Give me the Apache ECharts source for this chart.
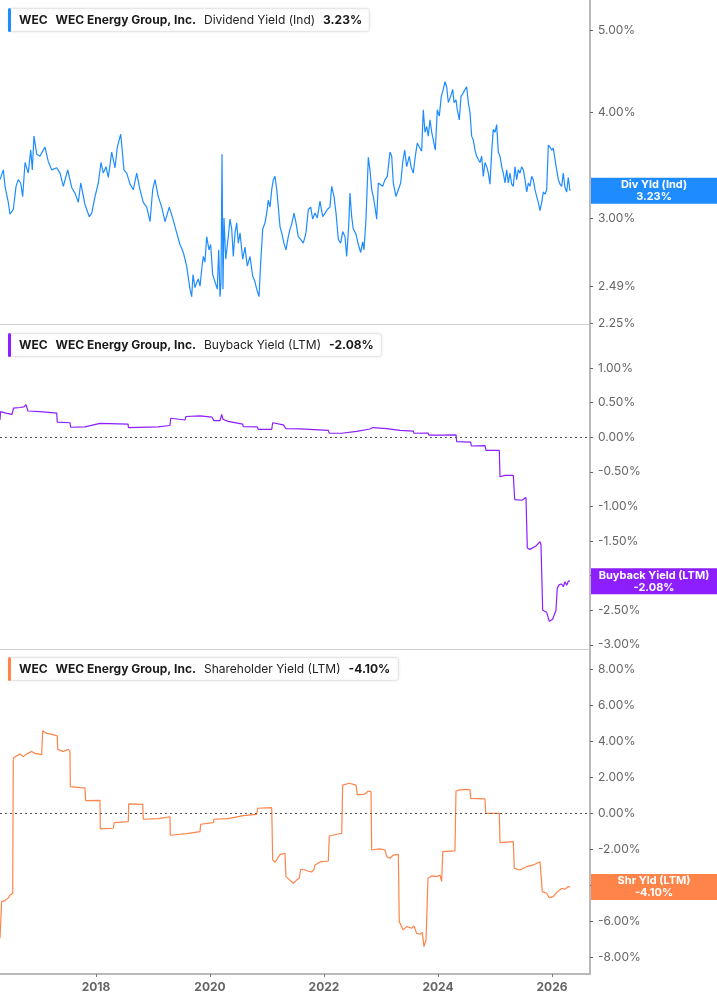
<!DOCTYPE html>
<html>
  <head>
    <meta charset="utf-8" />
    <title>WEC yields</title>
    <script src="https://cdn.jsdelivr.net/npm/echarts@6.0.0/dist/echarts.min.js"></script>
    <style>
      html, body { margin: 0; padding: 0; background: #fff; }
      #main { width: 717px; height: 1005px; }
    </style>
  </head>
  <body>
    <div id="main"></div>
    <script type="text/javascript">
      // x values are decimal years
      var xMin = 2016.316;
      var xMax = 2026.667;
      var yearTicks = [2018, 2020, 2022, 2024, 2026];

      var divTicks = [2.25, 2.49, 3, 4, 5];
      var buybackTicks = [-3, -2.5, -2, -1.5, -1, -0.5, 0, 0.5, 1];
      var shrTicks = [-8, -6, -4, -2, 0, 2, 4, 6, 8];

      // Dividend Yield (Ind), %
      var divYield = [
        [2016.316, 3.33], [2016.374, 3.42], [2016.404, 3.27], [2016.462, 3.13], [2016.491, 3.03],
        [2016.549, 3.07], [2016.597, 3.27], [2016.637, 3.33], [2016.679, 3.30], [2016.714, 3.18],
        [2016.755, 3.49], [2016.812, 3.39], [2016.855, 3.61], [2016.883, 3.42], [2016.912, 3.75],
        [2016.960, 3.57], [2017.018, 3.55], [2017.065, 3.60], [2017.105, 3.64], [2017.163, 3.50],
        [2017.223, 3.42], [2017.311, 3.44], [2017.369, 3.39], [2017.427, 3.27], [2017.504, 3.42],
        [2017.574, 3.26], [2017.632, 3.21], [2017.690, 3.13], [2017.732, 3.30], [2017.807, 3.11],
        [2017.883, 3.01], [2017.925, 3.04], [2017.983, 3.18], [2018.041, 3.30], [2018.088, 3.49],
        [2018.128, 3.39], [2018.176, 3.45], [2018.216, 3.35], [2018.276, 3.59], [2018.334, 3.44],
        [2018.374, 3.64], [2018.434, 3.77], [2018.491, 3.42], [2018.539, 3.39], [2018.597, 3.29],
        [2018.655, 3.24], [2018.714, 3.39], [2018.772, 3.24], [2018.830, 3.13], [2018.890, 3.09],
        [2018.948, 2.97], [2018.995, 3.24], [2019.035, 3.33], [2019.093, 3.18], [2019.153, 3.09],
        [2019.211, 2.97], [2019.286, 3.09], [2019.351, 2.99], [2019.416, 2.88], [2019.474, 2.79],
        [2019.532, 2.73], [2019.591, 2.63], [2019.623, 2.54], [2019.649, 2.47], [2019.679, 2.42],
        [2019.702, 2.57], [2019.737, 2.48], [2019.772, 2.52], [2019.795, 2.54], [2019.825, 2.49],
        [2019.855, 2.61], [2019.883, 2.70], [2019.912, 2.66], [2019.942, 2.85], [2019.983, 2.75],
        [2020.012, 2.79], [2020.047, 2.57], [2020.088, 2.52], [2020.128, 2.47], [2020.153, 2.75],
        [2020.176, 2.42], [2020.193, 2.51], [2020.211, 3.57], [2020.228, 2.47], [2020.246, 3.00],
        [2020.276, 2.68], [2020.321, 2.85], [2020.351, 2.99], [2020.381, 2.91], [2020.409, 2.70],
        [2020.439, 2.88], [2020.469, 2.96], [2020.497, 2.80], [2020.527, 2.88], [2020.574, 2.68],
        [2020.614, 2.77], [2020.655, 2.63], [2020.702, 2.70], [2020.749, 2.56], [2020.790, 2.52],
        [2020.819, 2.47], [2020.860, 2.42], [2020.890, 2.66], [2020.925, 2.91], [2020.965, 2.96],
        [2020.995, 3.04], [2021.023, 3.15], [2021.053, 3.09], [2021.083, 3.24], [2021.111, 3.33],
        [2021.141, 3.36], [2021.171, 3.24], [2021.199, 3.09], [2021.228, 2.93], [2021.258, 2.88],
        [2021.298, 2.80], [2021.333, 2.75], [2021.374, 2.85], [2021.404, 2.91], [2021.434, 2.95],
        [2021.474, 3.04], [2021.509, 2.96], [2021.549, 2.85], [2021.591, 2.83], [2021.637, 2.80],
        [2021.684, 2.88], [2021.725, 3.07], [2021.767, 3.09], [2021.802, 2.99], [2021.842, 3.04],
        [2021.883, 3.00], [2021.930, 3.14], [2021.977, 3.01], [2022.018, 3.04], [2022.058, 3.07],
        [2022.105, 3.09], [2022.135, 3.27], [2022.176, 3.18], [2022.211, 3.04], [2022.251, 2.83],
        [2022.293, 2.80], [2022.328, 2.89], [2022.369, 2.85], [2022.398, 2.70], [2022.433, 2.93],
        [2022.456, 3.21], [2022.486, 3.01], [2022.514, 2.91], [2022.562, 2.87], [2022.602, 2.79],
        [2022.644, 2.73], [2022.679, 2.81], [2022.702, 2.75], [2022.737, 2.99], [2022.778, 3.54],
        [2022.807, 3.42], [2022.837, 3.24], [2022.865, 3.18], [2022.895, 3.09], [2022.925, 2.99],
        [2022.953, 3.30], [2022.983, 3.30], [2023.030, 3.27], [2023.070, 3.33], [2023.111, 3.36],
        [2023.158, 3.59], [2023.188, 3.55], [2023.216, 3.30], [2023.263, 3.18], [2023.304, 3.24],
        [2023.346, 3.30], [2023.381, 3.49], [2023.416, 3.61], [2023.451, 3.45], [2023.497, 3.55],
        [2023.527, 3.45], [2023.567, 3.39], [2023.602, 3.55], [2023.637, 3.68], [2023.672, 3.64],
        [2023.714, 3.60], [2023.742, 4.03], [2023.772, 3.79], [2023.802, 3.85], [2023.830, 3.75],
        [2023.860, 3.92], [2023.890, 3.79], [2023.918, 3.71], [2023.953, 3.61], [2023.988, 4.03],
        [2024.023, 3.96], [2024.058, 4.18], [2024.093, 4.26], [2024.123, 4.35], [2024.153, 4.29],
        [2024.181, 4.11], [2024.223, 4.18], [2024.258, 4.26], [2024.281, 4.11], [2024.316, 4.14],
        [2024.339, 4.03], [2024.374, 3.92], [2024.404, 4.18], [2024.444, 4.22], [2024.474, 4.26],
        [2024.504, 4.29], [2024.532, 4.11], [2024.562, 4.00], [2024.591, 3.75], [2024.620, 3.71],
        [2024.649, 3.61], [2024.679, 3.55], [2024.707, 3.52], [2024.737, 3.49], [2024.767, 3.55],
        [2024.795, 3.36], [2024.825, 3.49], [2024.855, 3.45], [2024.883, 3.39], [2024.912, 3.29],
        [2024.942, 3.59], [2024.970, 3.82], [2025.000, 3.79], [2025.030, 3.87], [2025.058, 3.59],
        [2025.088, 3.55], [2025.118, 3.45], [2025.146, 3.39], [2025.176, 3.30], [2025.205, 3.42],
        [2025.234, 3.30], [2025.263, 3.39], [2025.293, 3.29], [2025.321, 3.27], [2025.351, 3.45],
        [2025.381, 3.33], [2025.409, 3.42], [2025.439, 3.39], [2025.469, 3.45], [2025.497, 3.42],
        [2025.527, 3.33], [2025.557, 3.22], [2025.585, 3.30], [2025.614, 3.27], [2025.644, 3.36],
        [2025.672, 3.33], [2025.702, 3.24], [2025.732, 3.18], [2025.760, 3.13], [2025.790, 3.06],
        [2025.820, 3.13], [2025.848, 3.22], [2025.878, 3.20], [2025.907, 3.24], [2025.936, 3.66],
        [2025.965, 3.64], [2025.995, 3.61], [2026.023, 3.63], [2026.053, 3.52], [2026.083, 3.42],
        [2026.111, 3.33], [2026.141, 3.29], [2026.170, 3.27], [2026.198, 3.39], [2026.228, 3.26],
        [2026.258, 3.22], [2026.286, 3.35], [2026.316, 3.23]
      ];

      // Buyback Yield (LTM), %
      var buybackYield = [
        [2016.316, 0.25], [2016.325, 0.37], [2016.421, 0.35], [2016.527, 0.33], [2016.549, 0.32],
        [2016.553, 0.42], [2016.667, 0.43], [2016.737, 0.44], [2016.772, 0.47], [2016.807, 0.38],
        [2017.018, 0.37], [2017.311, 0.35], [2017.321, 0.22], [2017.544, 0.21], [2017.556, 0.145],
        [2017.807, 0.15], [2017.825, 0.165], [2018.070, 0.20], [2018.562, 0.19], [2018.570, 0.14],
        [2019.088, 0.15], [2019.106, 0.17], [2019.298, 0.17], [2019.311, 0.275], [2019.562, 0.25],
        [2019.579, 0.30], [2019.825, 0.31], [2020.035, 0.29], [2020.070, 0.24], [2020.176, 0.24],
        [2020.205, 0.33], [2020.228, 0.26], [2020.316, 0.23], [2020.574, 0.19], [2020.584, 0.155],
        [2020.830, 0.15], [2020.848, 0.115], [2021.083, 0.115], [2021.100, 0.21], [2021.286, 0.18],
        [2021.333, 0.125], [2021.579, 0.12], [2021.591, 0.105], [2022.076, 0.10], [2022.093, 0.058],
        [2022.311, 0.058], [2022.339, 0.08], [2022.574, 0.085], [2022.585, 0.105], [2022.807, 0.12],
        [2022.855, 0.14], [2023.100, 0.125], [2023.111, 0.11], [2023.333, 0.10], [2023.567, 0.09],
        [2023.579, 0.058], [2023.830, 0.06], [2023.842, 0.03], [2024.093, 0.03], [2024.105, 0.035],
        [2024.316, 0.035], [2024.328, -0.064], [2024.574, -0.07], [2024.585, -0.126], [2024.825, -0.12],
        [2024.842, -0.19], [2025.076, -0.19], [2025.088, -0.57], [2025.176, -0.55], [2025.321, -0.55],
        [2025.346, -0.90], [2025.474, -0.91], [2025.544, -0.87], [2025.567, -1.60], [2025.614, -1.62],
        [2025.644, -1.64], [2025.719, -1.57], [2025.790, -1.51], [2025.807, -1.55], [2025.837, -2.50],
        [2025.907, -2.53], [2025.953, -2.66], [2026.011, -2.63], [2026.070, -2.50], [2026.093, -2.18],
        [2026.128, -2.13], [2026.170, -2.12], [2026.198, -2.16], [2026.228, -2.09], [2026.258, -2.14],
        [2026.286, -2.08], [2026.316, -2.08]
      ];

      // Shareholder Yield (LTM), %
      var shrYield = [
        [2016.316, -6.94], [2016.345, -4.91], [2016.404, -4.85], [2016.462, -4.70], [2016.491, -4.54],
        [2016.539, -4.46], [2016.549, 3.06], [2016.609, 3.20], [2016.667, 3.29], [2016.725, 3.15],
        [2016.784, 3.29], [2016.872, 3.44], [2016.930, 3.33], [2017.047, 3.26], [2017.065, 4.59],
        [2017.135, 4.44], [2017.193, 4.41], [2017.321, 4.30], [2017.328, 3.55], [2017.427, 3.43],
        [2017.514, 3.55], [2017.544, 3.43], [2017.550, 1.48], [2017.719, 1.43], [2017.807, 1.41],
        [2017.819, 0.70], [2018.070, 0.72], [2018.076, -0.87], [2018.304, -0.83], [2018.321, -0.52],
        [2018.567, -0.46], [2018.574, 0.52], [2018.819, 0.50], [2018.830, -0.33], [2019.093, -0.30],
        [2019.111, -0.19], [2019.298, -0.19], [2019.304, -1.22], [2019.591, -1.13], [2019.825, -1.02],
        [2019.837, -0.61], [2020.058, -0.52], [2020.070, -0.33], [2020.321, -0.30], [2020.339, -0.19],
        [2020.584, -0.13], [2020.597, -0.06], [2020.819, -0.06], [2020.837, 0.28], [2021.083, 0.31],
        [2021.100, -2.59], [2021.141, -2.72], [2021.228, -2.30], [2021.316, -2.22], [2021.333, -3.52],
        [2021.462, -3.89], [2021.521, -3.71], [2021.567, -3.60], [2021.591, -3.11], [2021.667, -3.15],
        [2021.725, -3.22], [2021.784, -3.26], [2021.825, -3.13], [2021.842, -2.87], [2021.930, -2.70],
        [2022.076, -2.65], [2022.093, -1.26], [2022.311, -1.11], [2022.328, 1.57], [2022.444, 1.67],
        [2022.469, 1.76], [2022.562, 1.57], [2022.585, 1.02], [2022.719, 1.07], [2022.778, 1.24],
        [2022.825, 1.19], [2022.837, -2.04], [2022.983, -1.98], [2023.070, -2.04], [2023.100, -2.41],
        [2023.158, -2.50], [2023.216, -2.32], [2023.304, -2.28], [2023.321, -6.02], [2023.391, -6.48],
        [2023.451, -6.30], [2023.539, -6.39], [2023.579, -6.26], [2023.626, -6.67], [2023.684, -6.72],
        [2023.725, -6.63], [2023.754, -7.41], [2023.790, -7.04], [2023.812, -7.07], [2023.825, -3.61],
        [2023.890, -3.48], [2023.977, -3.52], [2024.035, -3.43], [2024.065, -3.79], [2024.083, -2.13],
        [2024.298, -2.09], [2024.316, 1.24], [2024.386, 1.30], [2024.504, 1.33], [2024.562, 1.30],
        [2024.574, 0.83], [2024.825, 0.80], [2024.837, 0.0], [2025.076, 0.0], [2025.088, -1.63],
        [2025.321, -1.57], [2025.339, -3.06], [2025.439, -3.15], [2025.557, -2.96], [2025.672, -2.87],
        [2025.790, -2.69], [2025.820, -2.65], [2025.830, -4.35], [2025.907, -4.44], [2025.953, -4.69],
        [2026.023, -4.63], [2026.083, -4.41], [2026.170, -4.17], [2026.228, -4.22], [2026.286, -4.07],
        [2026.316, -4.10]
      ];

      var font = 'Inter, Roboto, sans-serif';
      var blue = '#1e8cff';
      var purple = '#8c1eff';
      var orange = '#ff844a';
      var flagWidth = 126;

      function pct(v) {
        return v.toFixed(2) + '%';
      }

      function legendBox(top, color, name, value) {
        return {
          left: 8,
          top: top,
          text: '{bar|}{b|WEC}{b|WEC Energy Group, Inc.}{n|' + name + '}{b|' + value + '}',
          backgroundColor: '#fff',
          borderColor: '#e6e6e6',
          borderWidth: 1,
          borderRadius: 3,
          padding: [0, 8, 0, 0],
          shadowColor: 'rgba(0,0,0,0.08)',
          shadowBlur: 3,
          textStyle: {
            fontWeight: 'normal',
            rich: {
              bar: { width: 3, height: 24, backgroundColor: color, borderRadius: 2 },
              b: { fontFamily: font, fontSize: 12, fontWeight: 'bold', color: '#1a1a1a', padding: [0, 0, 0, 8], lineHeight: 24 },
              n: { fontFamily: font, fontSize: 12, fontWeight: 'normal', color: '#222', padding: [0, 0, 0, 8], lineHeight: 24 }
            }
          }
        };
      }

      function xAxisFor(gridIndex, last) {
        return {
          type: 'value',
          gridIndex: gridIndex,
          min: xMin,
          max: xMax,
          splitLine: { show: false },
          axisLine: { show: true, onZero: false, lineStyle: { color: last ? '#b9b9b9' : '#cfcfcf', width: last ? 2 : 1 } },
          axisTick: { show: last, customValues: yearTicks, length: 3, lineStyle: { color: '#777' } },
          axisLabel: {
            show: last,
            customValues: yearTicks,
            formatter: function (v) { return String(Math.round(v)); },
            fontFamily: font,
            fontSize: 12,
            fontWeight: 'bold',
            color: '#666',
            margin: 7
          }
        };
      }

      function yAxisFor(gridIndex, extra) {
        var ax = {
          gridIndex: gridIndex,
          position: 'right',
          splitLine: { show: false },
          axisLine: { show: true, onZero: false, lineStyle: { color: '#b9b9b9', width: 2 } },
          axisTick: { show: true, length: 3, lineStyle: { color: '#666' } },
          axisLabel: {
            fontFamily: font,
            fontSize: 12,
            color: '#666',
            margin: 8,
            formatter: function (v) { return pct(v); }
          }
        };
        for (var k in extra) ax[k] = extra[k];
        ax.axisTick.customValues = extra.ticks;
        ax.axisLabel.customValues = extra.ticks;
        delete ax.ticks;
        return ax;
      }

      function endFlag(color, title, value) {
        return {
          show: true,
          formatter: title + '\n' + value,
          backgroundColor: color,
          color: '#fff',
          fontFamily: font,
          fontSize: 11,
          fontWeight: 'bold',
          lineHeight: 12,
          width: flagWidth,
          align: 'center',
          padding: [1, 0],
          distance: 0
        };
      }

      var zeroLine = {
        silent: true,
        symbol: 'none',
        label: { show: false },
        lineStyle: { type: [2, 3], color: '#555', width: 1 },
        data: [{ yAxis: 0 }]
      };

      var myChart = echarts.init(document.getElementById('main'));

      var option = {
        animation: false,
        backgroundColor: '#fff',
        title: [
          legendBox(8, blue, 'Dividend Yield (Ind)', '3.23%'),
          legendBox(333, purple, 'Buyback Yield (LTM)', '-2.08%'),
          legendBox(657, orange, 'Shareholder Yield (LTM)', '-4.10%')
        ],
        grid: [
          { left: 0, right: 127, top: 0, height: 324 },
          { left: 0, right: 127, top: 324, height: 325 },
          { left: 0, right: 127, top: 649, height: 325 }
        ],
        xAxis: [xAxisFor(0, false), xAxisFor(1, false), xAxisFor(2, true)],
        yAxis: [
          yAxisFor(0, { type: 'log', logBase: 10, min: 2.246, max: 5.437, ticks: divTicks }),
          yAxisFor(1, { type: 'value', min: -3.06, max: 1.637, ticks: buybackTicks }),
          yAxisFor(2, { type: 'value', min: -8.93, max: 9.13, ticks: shrTicks })
        ],
        series: [
          {
            type: 'line',
            xAxisIndex: 0,
            yAxisIndex: 0,
            data: divYield,
            showSymbol: false,
            lineStyle: { color: blue, width: 1.2 },
            endLabel: endFlag(blue, 'Div Yld (Ind)', '3.23%')
          },
          {
            type: 'line',
            xAxisIndex: 1,
            yAxisIndex: 1,
            data: buybackYield,
            showSymbol: false,
            lineStyle: { color: purple, width: 1.2 },
            markLine: zeroLine,
            endLabel: endFlag(purple, 'Buyback Yield (LTM)', '-2.08%')
          },
          {
            type: 'line',
            xAxisIndex: 2,
            yAxisIndex: 2,
            data: shrYield,
            showSymbol: false,
            lineStyle: { color: orange, width: 1.2 },
            markLine: zeroLine,
            endLabel: endFlag(orange, 'Shr Yld (LTM)', '-4.10%')
          }
        ]
      };

      myChart.setOption(option);

      // move each end flag so it sits just right of the price axis
      var lastPoints = [divYield, buybackYield, shrYield].map(function (d) { return d[d.length - 1]; });
      var flagSeries = lastPoints.map(function (p, i) {
        var endPx = myChart.convertToPixel({ gridIndex: i }, p)[0];
        var axisPx = myChart.convertToPixel({ xAxisIndex: i }, xMax);
        return { endLabel: { distance: axisPx - endPx + 1 + flagWidth / 2 } };
      });
      myChart.setOption({ series: flagSeries });
    </script>
  </body>
</html>
